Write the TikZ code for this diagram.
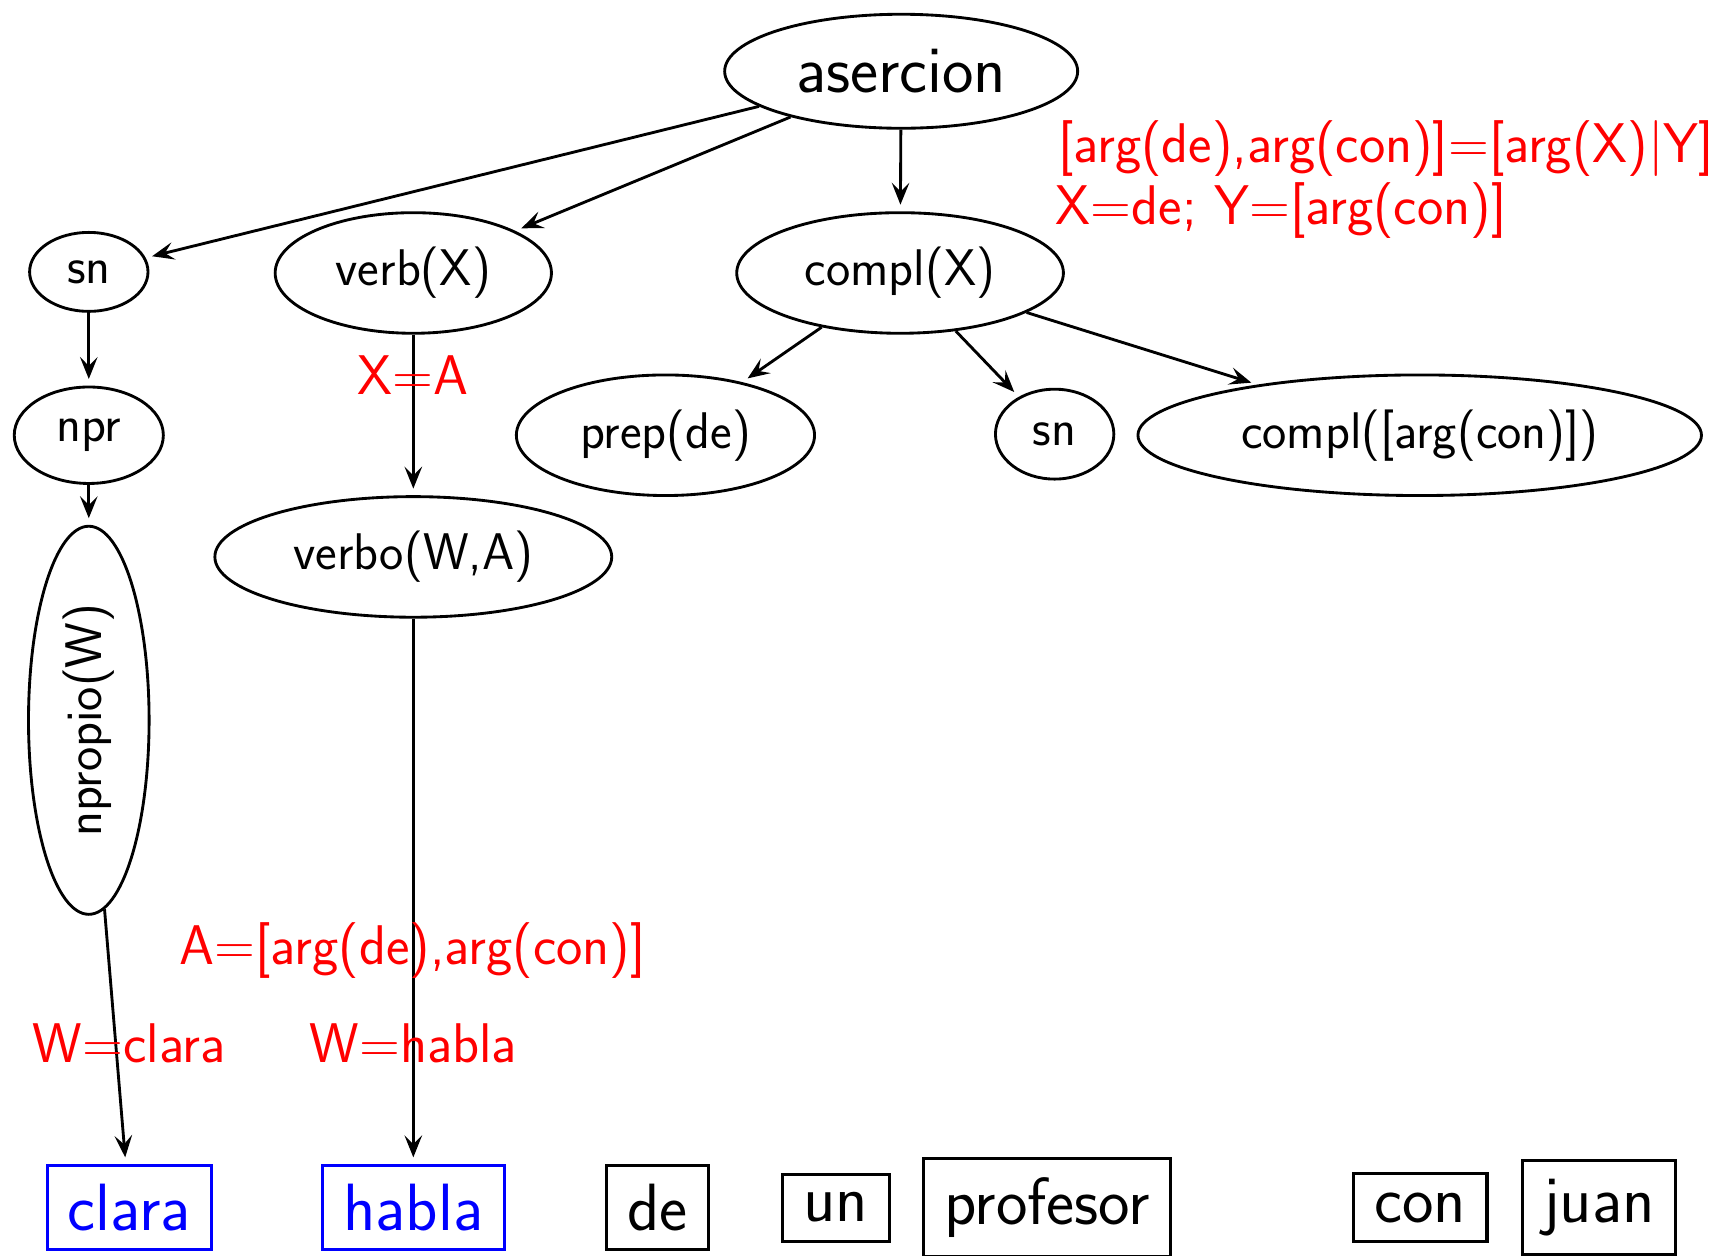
\documentclass[tikz,border=0pt]{standalone}
\usepackage{fontspec}
\usetikzlibrary{shapes.geometric,arrows.meta}
\begin{document}
\begin{tikzpicture}[x=1pt,y=-1pt,
  ell/.style={draw,ellipse,line width=2.6pt,inner sep=0pt,font=\fontsize{47}{56}\selectfont\sffamily},
  word/.style={draw,line width=2.8pt,inner xsep=19pt,inner ysep=17pt,font=\fontsize{61}{72}\selectfont\sffamily},
  lbl/.style={text=red,inner sep=0pt,font=\fontsize{51}{60}\selectfont\sffamily},
  arr/.style={line width=2.6pt,-{Stealth[length=20pt,width=16pt,inset=8pt]},shorten >=6pt}
]
\useasboundingbox (0,0) rectangle (1568,1145);

% tree nodes
\node[ell,minimum width=322pt,minimum height=104pt,font=\fontsize{61}{72}\selectfont\sffamily] (aser) at (822,65) {asercion};
\node[ell,minimum width=108pt,minimum height=72pt] (sna) at (81,248) {sn};
\node[ell,minimum width=252pt,minimum height=110pt] (verb) at (377,249) {verb(X)};
\node[ell,minimum width=298pt,minimum height=110pt] (compl) at (821,249) {compl(X)};
\node[ell,minimum width=136pt,minimum height=88pt] (npr) at (81,397) {npr};
\node[ell,minimum width=272pt,minimum height=110pt] (prep) at (607,397) {prep(de)};
\node[ell,minimum width=108pt,minimum height=82pt] (snb) at (962,396) {sn};
\node[ell,minimum width=514pt,minimum height=110pt] (carg) at (1295,397) {compl([arg(con)])};
\node[ell,minimum width=362pt,minimum height=110pt] (verbo) at (377,508) {verbo(W,A)};
\node[ell,rotate=90,minimum width=354pt,minimum height=110pt] (nprop) at (81,657) {npropio(W)};

% words
\node[word,draw=blue,text=blue] (clara) at (118,1101.5) {clara};
\node[word,draw=blue,text=blue] (habla) at (377,1101.5) {habla};
\node[word] (de) at (599.5,1101.5) {de};
\node[word] (un) at (762.5,1101.5) {un};
\node[word] (prof) at (955,1101.5) {profesor};
\node[word] (con) at (1295.5,1101.5) {con};
\node[word] (juan) at (1458.5,1101.5) {juan};

% connectors
\draw[arr] (aser) -- (sna);
\draw[arr] (aser) -- (verb);
\draw[arr] (aser) -- (compl);
\draw[arr] (sna) -- (npr);
\draw[arr] (verb) -- (verbo);
\draw[arr] (compl) -- (prep);
\draw[arr] (compl) -- (snb);
\draw[arr] (compl) -- (carg);
\draw[arr] (npr) -- (nprop);
\draw[arr] (nprop) -- (clara);
\draw[arr] (verbo) -- (habla);

% labels
\node[lbl] (lxa) at (377,342) {X=A};
\node[lbl] (lacon) at (376.5,867) {A=[arg(de),arg(con)]};
\node[lbl] (lwc) at (118,952) {W=clara};
\node[lbl] (lwh) at (377,952) {W=habla};
\node[lbl,anchor=west] (l1) at (965,135.5) {[arg(de),arg(con)]=[arg(X)|Y]};
\node[lbl,anchor=west] (l2) at (963,192.5) {X=de; Y=[arg(con)]};
\end{tikzpicture}
\end{document}
